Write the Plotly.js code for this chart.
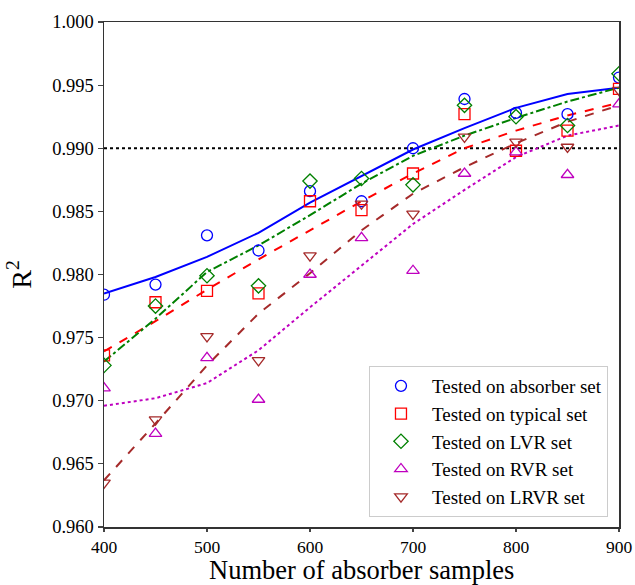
<!DOCTYPE html>
<html>
<head>
<meta charset="utf-8">
<script src="https://cdn.plot.ly/plotly-3.0.1.min.js"></script>
<style>html,body{margin:0;padding:0;background:#fff;}#chart{width:635px;height:585px;}</style>
</head>
<body>
<div id="chart"></div>
<script>
// Data
const samples = [400, 450, 500, 550, 600, 650, 700, 750, 800, 850, 900];

const absorberPts = [0.9784, 0.9792, 0.9831, 0.9819, 0.9866, 0.9858, 0.9900, 0.9939, 0.9928, 0.9927, 0.9956];
const typicalPts  = [0.9736, 0.9778, 0.9787, 0.9785, 0.9858, 0.9851, 0.9880, 0.9927, 0.9898, 0.9914, 0.9947];
const lvrPts      = [0.9728, 0.9775, 0.9799, 0.9791, 0.9874, 0.9876, 0.9871, 0.9934, 0.9925, 0.9918, 0.9959];
const rvrPts      = [0.9710, 0.9674, 0.9734, 0.9701, 0.9800, 0.9829, 0.9803, 0.9880, 0.9897, 0.9879, 0.9935];
const lrvrPts     = [0.9635, 0.9685, 0.9751, 0.9732, 0.9815, 0.9856, 0.9848, 0.9909, 0.9905, 0.9901, 0.9946];

const absorberFit = [0.9785, 0.9798, 0.9814, 0.9833, 0.9857, 0.9878, 0.9899, 0.9916, 0.9932, 0.9943, 0.9948];
const typicalFit  = [0.9739, 0.9763, 0.9788, 0.9812, 0.9835, 0.9858, 0.9880, 0.9900, 0.9914, 0.9926, 0.9936];
const lvrFit      = [0.9731, 0.9765, 0.9802, 0.9823, 0.9847, 0.9872, 0.9894, 0.9910, 0.9924, 0.9937, 0.9948];
const rvrFit      = [0.9696, 0.9702, 0.9714, 0.9740, 0.9774, 0.9807, 0.9840, 0.9867, 0.9893, 0.9910, 0.9918];
const lrvrFit     = [0.9637, 0.9682, 0.9728, 0.9769, 0.9801, 0.9835, 0.9864, 0.9885, 0.9904, 0.9921, 0.9934];

const threshold = 0.990;
const xRange = [400, 900];

const xTitle = "Number of absorber samples";
const seriesNames = ["Tested on absorber set", "Tested on typical set", "Tested on LVR set", "Tested on RVR set", "Tested on LRVR set"];
const yTickVals = [0.960, 0.965, 0.970, 0.975, 0.980, 0.985, 0.990, 0.995, 1.000];
const xTickVals = [400, 500, 600, 700, 800, 900];

const pts = [absorberPts, typicalPts, lvrPts, rvrPts, lrvrPts];
const fits = [absorberFit, typicalFit, lvrFit, rvrFit, lrvrFit];
const colors = ["#0000ff", "#ff0000", "#008000", "#bf00bf", "#a52a2a"];
const symbols = ["circle-open", "square-open", "diamond-open", "triangle-up-open", "triangle-down-open"];
const dashes = ["solid", "dash", "dashdot", "dot", "dash"];

const traces = [];
traces.push({
  x: xRange, y: [threshold, threshold], mode: "lines", showlegend: false, hoverinfo: "skip",
  line: {color: "#000", width: 2, dash: "dot"}
});
for (let i = 0; i < 5; i++) {
  traces.push({
    x: samples, y: fits[i], mode: "lines", showlegend: false, hoverinfo: "skip",
    line: {color: colors[i], width: 2, dash: dashes[i]}
  });
}
for (let i = 0; i < 5; i++) {
  traces.push({
    x: samples, y: pts[i], mode: "markers", name: seriesNames[i],
    marker: {symbol: symbols[i], size: 11, color: colors[i], line: {width: 1.3, color: colors[i]}}
  });
}

const font = "Liberation Serif, Times New Roman, serif";
const layout = {
  width: 635, height: 585,
  margin: {l: 104, r: 16, t: 22, b: 58},
  paper_bgcolor: "#fff", plot_bgcolor: "#fff",
  font: {family: font, size: 18.5, color: "#000"},
  showlegend: true,
  xaxis: {
    range: xRange, tickvals: xTickVals, ticks: "outside", ticklen: 3, tickwidth: 1.2,
    showline: true, linecolor: "#333", linewidth: 1.5, mirror: true, showgrid: false, zeroline: false,
    tickfont: {family: font, size: 17.5}
  },
  yaxis: {
    range: [0.960, 1.000], tickvals: yTickVals, tickformat: ".3f", ticks: "outside", ticklen: 5, tickwidth: 1.2,
    showline: true, linecolor: "#333", linewidth: 1.5, mirror: true, showgrid: false, zeroline: false,
    tickfont: {family: font, size: 18.5},
    title: {text: "R<sup>2</sup>", font: {family: font, size: 28}, standoff: 12}
  },
  annotations: [{
    text: xTitle, xref: "paper", yref: "paper", x: 0.5, y: 0, xanchor: "center", yanchor: "bottom",
    yshift: -59, showarrow: false, borderpad: 0, font: {family: font, size: 26.5, color: "#000"}
  }],
  legend: {
    x: 0.9786, y: 0.0198, xanchor: "right", yanchor: "bottom",
    bgcolor: "#fff", bordercolor: "#cccccc", borderwidth: 1,
    font: {family: font, size: 19}, itemwidth: 52, tracegroupgap: 0
  }
};

Plotly.newPlot("chart", traces, layout, {staticPlot: true, displayModeBar: false});
</script>
</body>
</html>
